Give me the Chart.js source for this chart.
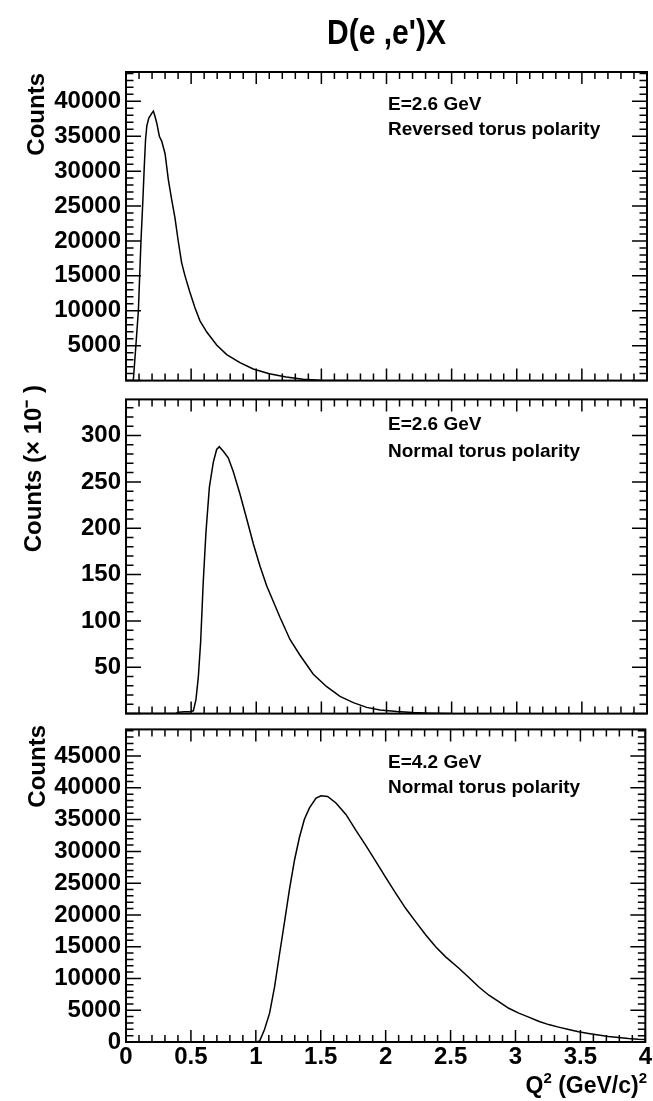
<!DOCTYPE html>
<html><head><meta charset="utf-8">
<script src="https://cdn.jsdelivr.net/npm/chart.js@4.4.1/dist/chart.umd.min.js"></script>
<style>
html,body{margin:0;padding:0;background:#fff;}
#wrap{position:relative;width:653px;height:1101px;overflow:hidden;background:#fff;}
.pane{position:absolute;left:0;width:653px;}
</style></head><body>
<div id="wrap">
<div class="pane" style="top:0;height:400px"><canvas id="c1"></canvas></div>
<div class="pane" style="top:380px;height:353px"><canvas id="c2"></canvas></div>
<div class="pane" style="top:710px;height:391px"><canvas id="c3"></canvas></div>
</div>
<script>
const FONT = "'Liberation Sans', Arial, Helvetica, sans-serif";
const chartTitle = "D(e ,e')X";
const xTitleMain = "Q";
const xTitleRest = " (GeV/c)";
const xTitleSup = "2";
const yTitle1 = "Counts";
const yTitle2 = "Counts (\u00d7 10\u207b )";
const yTitle3 = "Counts";
const panel1Text = ["E=2.6 GeV", "Reversed torus polarity"];
const panel2Text = ["E=2.6 GeV", "Normal torus polarity"];
const panel3Text = ["E=4.2 GeV", "Normal torus polarity"];

// Panel 1: E=2.6 GeV reversed torus
const q2Rev  = [0, 0.05, 0.056, 0.07, 0.095, 0.115, 0.13, 0.14, 0.15, 0.16, 0.175, 0.195, 0.21, 0.22, 0.236, 0.256, 0.274, 0.30, 0.325, 0.35, 0.376, 0.40, 0.427, 0.453, 0.49, 0.53, 0.568, 0.62, 0.696, 0.773, 0.875, 0.977, 1.10, 1.23, 1.36, 1.49, 1.70];
const cntRev = [0, 0, 0, 3500, 10000, 20000, 26000, 30500, 34500, 36500, 37600, 38200, 38600, 38000, 36900, 35000, 34300, 32500, 28800, 26000, 23300, 20100, 16900, 15000, 12700, 10400, 8560, 6950, 5110, 3730, 2580, 1660, 970, 510, 180, 50, 0];

// Panel 2: E=2.6 GeV normal torus (x10^3)
const q2Norm26  = [0, 0.38, 0.40, 0.45, 0.49, 0.517, 0.537, 0.555, 0.573, 0.593, 0.614, 0.64, 0.67, 0.696, 0.716, 0.747, 0.785, 0.824, 0.875, 0.927, 0.978, 1.029, 1.08, 1.131, 1.182, 1.259, 1.336, 1.438, 1.541, 1.643, 1.745, 1.848, 1.95, 2.08, 2.2, 2.33, 2.5];
const cntNorm26 = [0, 0, 1.5, 2, 2, 3, 15, 39, 77, 142, 196, 244, 271, 285, 288, 283, 276, 261, 237, 210, 183, 159, 138, 121, 104, 80, 63, 42.5, 29, 18.6, 11.8, 6.7, 3.9, 2.3, 1.2, 0.5, 0];

// Panel 3: E=4.2 GeV normal torus
const q2Norm42  = [0, 1.0, 1.03, 1.067, 1.106, 1.144, 1.182, 1.221, 1.259, 1.298, 1.336, 1.374, 1.413, 1.464, 1.502, 1.553, 1.617, 1.694, 1.771, 1.848, 1.925, 2.0, 2.078, 2.155, 2.232, 2.309, 2.385, 2.462, 2.564, 2.641, 2.718, 2.795, 2.871, 2.948, 3.025, 3.102, 3.178, 3.255, 3.332, 3.409, 3.486, 3.562, 3.639, 3.716, 3.793, 3.87, 3.946, 4.0];
const cntNorm42 = [0, 0, 180, 1970, 4540, 8650, 13770, 18900, 24030, 28650, 32230, 35050, 36850, 38380, 38740, 38640, 37620, 35820, 33300, 30900, 28400, 25900, 23400, 21000, 18900, 16850, 15000, 13400, 11600, 10150, 8650, 7360, 6340, 5310, 4540, 3920, 3260, 2740, 2340, 1970, 1620, 1350, 1100, 850, 690, 540, 430, 380];

const xRange = [0, 4];
const yMax1 = 44200, yMax2 = 339, yMax3 = 49200;
const xStep = 0.1, xLabelStep = 0.5;

function pts(xs, ys) { return xs.map((v, i) => ({x: v, y: ys[i]})); }
function isMult(v, m) { const r = v / m; return Math.abs(r - Math.round(r)) < 1e-6; }
function fmt(v) { return String(Math.round(v * 10) / 10); }

const frameTicks = {
  id: 'frameTicks',
  afterDraw(chart, args, o) {
    const {ctx, chartArea: a} = chart;
    const x = chart.scales.x, y = chart.scales.y;
    ctx.save();
    ctx.strokeStyle = '#000';
    ctx.lineWidth = 1.5;
    ctx.beginPath();
    for (const t of y.ticks) {
      if (!isMult(t.value, o.yMinor)) continue;
      const py = y.getPixelForValue(t.value);
      if (py < a.top - 0.5 || py > a.bottom + 0.5) continue;
      const len = isMult(t.value, o.yMajor) ? 15 : 7.5;
      ctx.moveTo(a.left, py); ctx.lineTo(a.left + len, py);
      ctx.moveTo(a.right, py); ctx.lineTo(a.right - len, py);
    }
    for (const t of x.ticks) {
      const px = x.getPixelForValue(t.value);
      const len = isMult(t.value, xLabelStep) ? 12 : 7;
      ctx.moveTo(px, a.bottom); ctx.lineTo(px, a.bottom - len);
      ctx.moveTo(px, a.top); ctx.lineTo(px, a.top + len);
    }
    ctx.stroke();
    ctx.lineWidth = 2;
    ctx.strokeRect(a.left, a.top, a.right - a.left, a.bottom - a.top);
    ctx.restore();
  }
};

const panelText = {
  id: 'panelText',
  afterDraw(chart, args, o) {
    const ctx = chart.ctx;
    ctx.save();
    ctx.fillStyle = '#000';
    for (const t of (o.items || [])) {
      ctx.save();
      ctx.translate(t.x, t.y);
      if (t.rot) ctx.rotate(t.rot);
      if (t.sy) ctx.scale(1, t.sy);
      ctx.textBaseline = 'alphabetic';
      const parts = t.parts || [{text: t.text, font: t.font, dy: 0}];
      let total = 0;
      for (const p of parts) { ctx.font = p.font; total += ctx.measureText(p.text).width; }
      let cx = t.align === 'right' ? -total : (t.align === 'center' ? -total / 2 : 0);
      ctx.textAlign = 'left';
      for (const p of parts) {
        ctx.font = p.font;
        ctx.fillText(p.text, cx, p.dy || 0);
        cx += ctx.measureText(p.text).width;
      }
      ctx.restore();
    }
    ctx.restore();
  }
};

const F = (s, w) => (w || 'bold') + ' ' + s + 'px ' + FONT;

function makeChart(id, cfg) {
  const yTickCb = (v) => (isMult(v, cfg.yLabelStep) && (v !== 0 || cfg.showZero)) ? String(Math.round(v)) : '';
  return new Chart(document.getElementById(id), {
    type: 'line',
    data: { datasets: [{
      data: pts(cfg.xs, cfg.ys),
      borderColor: '#000', borderWidth: 1.5, pointRadius: 0, tension: 0, fill: false
    }]},
    options: {
      responsive: true, maintainAspectRatio: false, animation: false,
      layout: { padding: cfg.padding },
      plugins: { legend: {display: false}, tooltip: {enabled: false},
        frameTicks: { yMajor: cfg.yLabelStep, yMinor: cfg.yMinor },
        panelText: { items: cfg.texts } },
      scales: {
        x: {
          type: 'linear', min: xRange[0], max: xRange[1], display: true,
          grid: {display: false, drawTicks: false}, border: {display: false},
          ticks: { display: cfg.xLabels, stepSize: xStep, autoSkip: false, includeBounds: false, maxRotation: 0, padding: 1,
            color: '#000', font: {family: FONT, size: 24, weight: 'bold'},
            callback: (v) => isMult(v, xLabelStep) ? fmt(v) : '' },
          afterFit: (s) => { s.height = cfg.xHeight; }
        },
        y: {
          type: 'linear', min: 0, max: cfg.yMax,
          grid: {display: false, drawTicks: false}, border: {display: false},
          ticks: { stepSize: cfg.yStep, autoSkip: false, includeBounds: false, padding: 5,
            color: '#000', font: {family: FONT, size: 24, weight: 'bold'}, callback: yTickCb },
          afterFit: (s) => { s.width = 126; }
        }
      }
    },
    plugins: [frameTicks, panelText]
  });
}

makeChart('c1', {
  xs: q2Rev, ys: cntRev, yMax: yMax1, yStep: 200, yMinor: 1000, yLabelStep: 5000, showZero: false,
  padding: {top: 72, bottom: 8, left: 0, right: 6}, xHeight: 0, xLabels: false,
  texts: [
    {text: chartTitle, font: F(30), x: 386.5, y: 44, align: 'center', sy: 1.18},
    {text: yTitle1, font: F(24), x: 44, y: 73, rot: -Math.PI / 2, align: 'right'},
    {text: panel1Text[0], font: F(19), x: 388, y: 110},
    {text: panel1Text[1], font: F(19), x: 388, y: 135}
  ]
});
makeChart('c2', {
  xs: q2Norm26, ys: cntNorm26, yMax: yMax2, yStep: 10, yMinor: 10, yLabelStep: 50, showZero: false,
  padding: {top: 12, bottom: 10, left: 0, right: 6}, xHeight: 0, xLabels: false,
  texts: [
    {text: yTitle2, font: F(24), x: 41, y: 5, rot: -Math.PI / 2, align: 'right'},
    {text: panel2Text[0], font: F(19), x: 388, y: 50},
    {text: panel2Text[1], font: F(19), x: 388, y: 77}
  ]
});
makeChart('c3', {
  xs: q2Norm42, ys: cntNorm42, yMax: yMax3, yStep: 200, yMinor: 1000, yLabelStep: 5000, showZero: true,
  padding: {top: 13, bottom: 0, left: 0, right: 6}, xHeight: 59, xLabels: true,
  texts: [
    {text: yTitle3, font: F(24), x: 45, y: 15, rot: -Math.PI / 2, align: 'right'},
    {text: panel3Text[0], font: F(19), x: 388, y: 58},
    {text: panel3Text[1], font: F(19), x: 388, y: 83},
    {parts: [
      {text: xTitleMain, font: F(23)},
      {text: xTitleSup, font: F(15), dy: -10},
      {text: xTitleRest, font: F(23)},
      {text: xTitleSup, font: F(15), dy: -10}
    ], x: 647, y: 383, align: 'right'}
  ]
});
</script>
</body></html>
